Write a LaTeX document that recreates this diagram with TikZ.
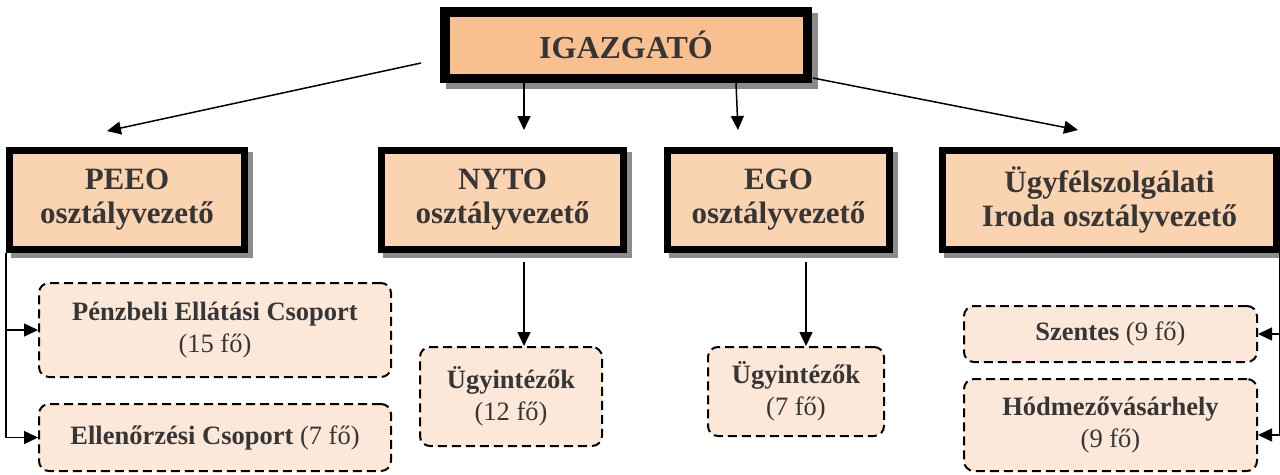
\documentclass[tikz,border=0pt]{standalone}
\usepackage{fontspec}
\setmainfont{Liberation Serif}
\usetikzlibrary{positioning,calc,shadows,arrows.meta}
\definecolor{bossfill}{HTML}{F9C08F}
\definecolor{headfill}{HTML}{FAD3B1}
\definecolor{teamfill}{HTML}{FCE8D9}
\definecolor{ink}{HTML}{363636}
\definecolor{shade}{HTML}{8C8C8C}
\tikzstyle{boss}= [draw, line width=9pt, fill=bossfill, text=ink, inner sep=0pt, font=\fontsize{32}{34}\selectfont\bfseries, drop shadow={shadow xshift=6pt, shadow yshift=-6pt, opacity=1, fill=shade, draw=shade, line width=9pt}]
\tikzstyle{head}= [draw, line width=7pt, fill=headfill, text=ink, inner sep=0pt, align=center, font=\fontsize{31}{34}\selectfont\bfseries, drop shadow={shadow xshift=5pt, shadow yshift=-5pt, opacity=1, fill=shade, draw=shade, line width=7pt}]
\tikzstyle{team}= [draw, line width=2pt, dash pattern=on 9pt off 5pt, rounded corners=10pt, fill=teamfill, text=ink, inner sep=0pt, align=center, font=\fontsize{26.5}{32}\selectfont]
\tikzstyle{arr}= [line width=1.5pt, -{Triangle[length=14pt,width=13pt]}]

\begin{document}
\begin{tikzpicture}[x=1pt, y=-1pt]
				\useasboundingbox (0,0) rectangle (1280,474);
				\node[boss, minimum width=363pt, minimum height=67pt] (igaz) at (626, 45) {IGAZGATÓ};
				\draw[line width=2pt] ([shift={(8.5pt,-8.5pt)}]igaz.north west) rectangle ([shift={(-8.5pt,8.5pt)}]igaz.south east);
				\node[head, minimum width=235pt, minimum height=99pt] (peeo) at (127, 200) {PEEO\\osztályvezető};
				\node[head, minimum width=242pt, minimum height=99pt] (nyto) at (502.5, 200) {NYTO\\osztályvezető};
				\node[head, minimum width=222pt, minimum height=99pt] (ego) at (778.5, 200) {EGO\\osztályvezető};
				\node[head, minimum width=334pt, minimum height=99pt] (ugy) at (1109.5, 200) {Ügyfélszolgálati\\Iroda osztályvezető};
				\node[team, minimum width=352pt, minimum height=94pt] (penz) at (215, 330) {\textbf{Pénzbeli Ellátási Csoport}\\(15 fő)};
				\node[team, minimum width=352pt, minimum height=67pt] (ell) at (215, 437.5) {\textbf{Ellenőrzési Csoport} (7 fő)};
				\node[team, minimum width=182pt, minimum height=99pt] (nyu) at (511, 396.5) {\textbf{Ügyintézők}\\(12 fő)};
				\node[team, minimum width=176pt, minimum height=89pt] (egu) at (796, 391.5) {\textbf{Ügyintézők}\\(7 fő)};
				\node[team, minimum width=293pt, minimum height=56pt] (szent) at (1110.5, 334) {\textbf{Szentes} (9 fő)};
				\node[team, minimum width=293pt, minimum height=92pt] (hod) at (1110.5, 425) {\textbf{Hódmezővásárhely}\\(9 fő)};
				\coordinate (l0) at (421, 63);
				\coordinate (l1) at (107, 131);
				\coordinate (n1) at (524, 130);
				\coordinate (e0) at (736, 83);
				\coordinate (e1) at (738, 130);
				\coordinate (r0) at (813, 78);
				\coordinate (r1) at (1078, 130);
				\coordinate (n2) at (524, 262);
				\coordinate (e2) at (806, 262);
				\draw[arr] (l0) -- (l1);
				\draw[arr] (igaz.south -| n1) -- (n1);
				\draw[arr] (e0) -- (e1);
				\draw[arr] (r0) -- (r1);
				\draw[arr] (peeo.south west) |- (penz.west);
				\draw[arr] (peeo.south west) |- (ell.west);
				\draw[arr] (n2) -- (n2 |- nyu.north);
				\draw[arr] (e2) -- (e2 |- egu.north);
				\draw[arr] (ugy.south east) |- (szent.east);
				\draw[arr] (ugy.south east) |- ([yshift=-10pt]hod.east);
			\end{tikzpicture}
\end{document}
